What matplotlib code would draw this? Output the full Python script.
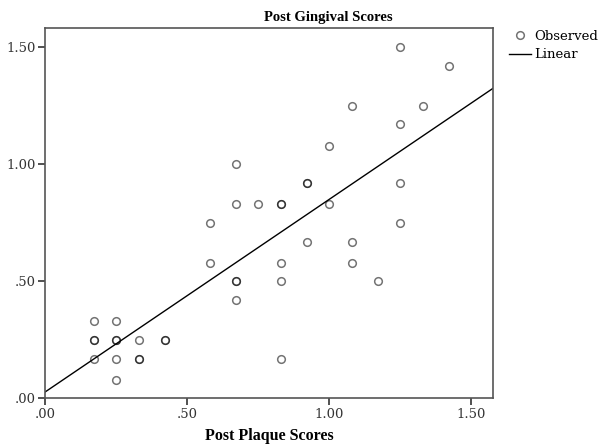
import numpy as np
import matplotlib
matplotlib.use("Agg")
import matplotlib.pyplot as plt
from matplotlib.lines import Line2D

# Observed data (Post Plaque Scores vs Post Gingival Scores)
plaque = [0.17, 0.25,
          0.17, 0.17, 0.25, 0.25, 0.33, 0.42, 0.42,
          0.17, 0.25, 0.33, 0.33,
          0.25,
          0.58, 0.58,
          0.67, 0.67, 0.67, 0.67, 0.67,
          0.75,
          0.83, 0.83, 0.83, 0.83, 0.83,
          0.92, 0.92, 0.92,
          1.00, 1.00,
          1.08, 1.08, 1.08,
          1.17,
          1.25, 1.25, 1.25, 1.25,
          1.33,
          1.42]
gingival = [0.33, 0.33,
            0.25, 0.25, 0.25, 0.25, 0.25, 0.25, 0.25,
            0.17, 0.17, 0.17, 0.17,
            0.08,
            0.75, 0.58,
            1.00, 0.83, 0.50, 0.50, 0.42,
            0.83,
            0.83, 0.83, 0.58, 0.50, 0.17,
            0.92, 0.92, 0.67,
            1.08, 0.83,
            1.25, 0.67, 0.58,
            0.50,
            1.50, 1.17, 0.92, 0.75,
            1.25,
            1.42]

x_ticks = [0.0, 0.5, 1.0, 1.5]
x_tick_labels = [".00", ".50", "1.00", "1.50"]
y_ticks = [0.0, 0.5, 1.0, 1.5]
y_tick_labels = [".00", ".50", "1.00", "1.50"]

serif = ["Liberation Serif", "DejaVu Serif"]
tickfont = ["DejaVu Serif"]

fig = plt.figure(figsize=(6.03, 4.45), dpi=100)
ax = fig.add_axes([45.3 / 603, 1 - 398.3 / 445, (493.3 - 45.3) / 603, (398.3 - 28.3) / 445])

xp = np.array(plaque)
yp = np.array(gingival)
slope, intercept = np.polyfit(xp, yp, 1)

xmax, ymax = 1.577, 1.581
ax.set_xlim(0, xmax)
ax.set_ylim(0, ymax)

ax.plot(xp, yp, linestyle="none", marker="o", markersize=5.5,
        markerfacecolor="none", markeredgecolor=(0, 0, 0, 0.55), markeredgewidth=1.1)
xl = np.array([0, xmax])
ax.plot(xl, intercept + slope * xl, color="black", linewidth=1.0)

ax.set_xticks(x_ticks)
ax.set_xticklabels(x_tick_labels, fontfamily=tickfont, fontsize=9.5, color="#333333")
ax.set_yticks(y_ticks)
ax.set_yticklabels(y_tick_labels, fontfamily=tickfont, fontsize=9.5, color="#333333")
ax.tick_params(direction="out", length=5, width=1.2, color="#333333", pad=2)
for s in ax.spines.values():
    s.set_color("#555555")
    s.set_linewidth(1.2)

ax.set_xlabel("Post Plaque Scores", fontfamily=serif, fontsize=11.5, fontweight="bold", labelpad=5)
fig.text(328 / 603, 1 - 18 / 445, "Post Gingival Scores", fontfamily=serif, fontsize=10.5,
         fontweight="bold", ha="center", va="center")

handles = [Line2D([], [], linestyle="none", marker="o", markersize=5.5, markerfacecolor="none",
                  markeredgecolor=(0, 0, 0, 0.55), markeredgewidth=1.1),
           Line2D([], [], color="black", linewidth=1.0)]
fig.legend(handles, ["Observed", "Linear"], loc="upper left",
           bbox_to_anchor=(509 / 603, 1 - 30 / 445), frameon=False,
           prop={"family": tickfont, "size": 9.5}, handlelength=1.7, handletextpad=0.2,
           labelspacing=0.4, borderpad=0, borderaxespad=0)

fig.savefig("out.png", dpi=100)
